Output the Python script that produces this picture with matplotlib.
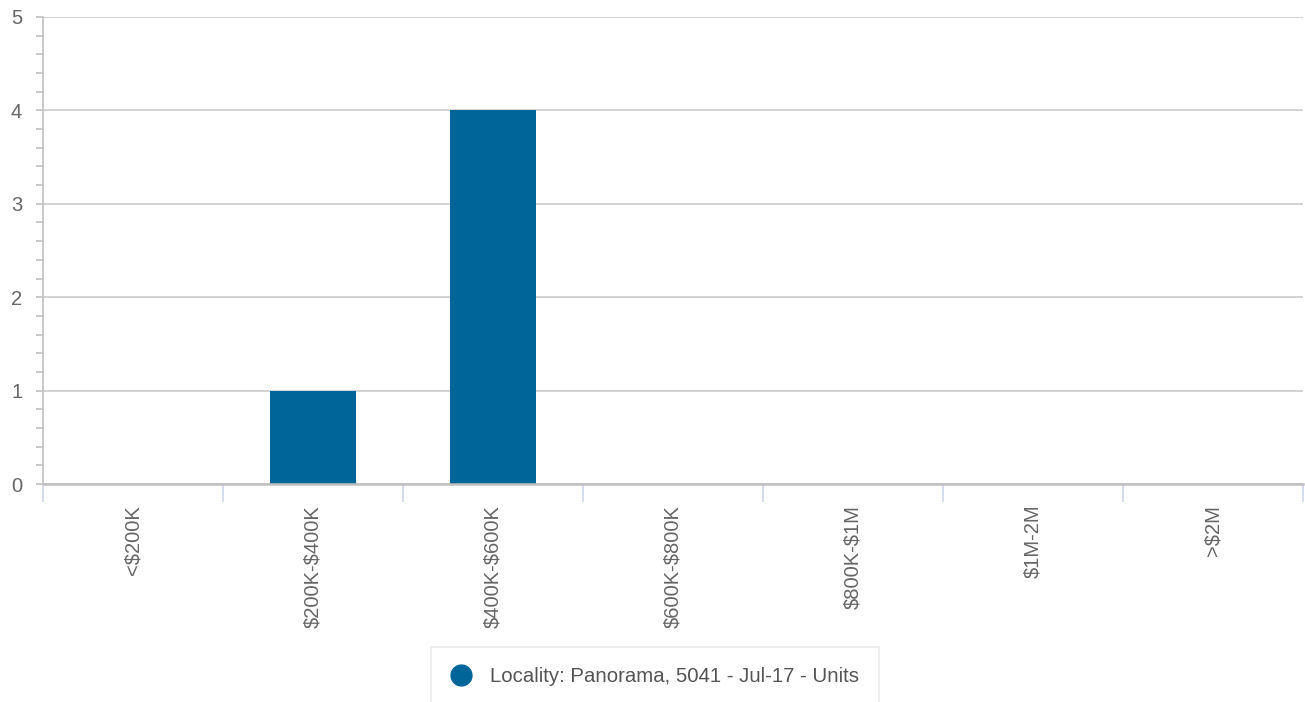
import matplotlib.pyplot as plt
from matplotlib.lines import Line2D
import numpy as np

plt.rcParams['font.family'] = ['Liberation Sans', 'DejaVu Sans']
plt.rcParams['text.parse_math'] = False

categories = ["<$200K", "$200K-$400K", "$400K-$600K", "$600K-$800K",
              "$800K-$1M", "$1M-2M", ">$2M"]
units = [0, 1, 4, 0, 0, 0, 0]
series_name = "Locality: Panorama, 5041 - Jul-17 - Units"
bar_color = "#006699"

W, H = 1305, 702
fig = plt.figure(figsize=(W / 100, H / 100), dpi=100)
ax = fig.add_axes([43 / W, 1 - 484 / H, 1260 / W, 467 / H])

x = np.arange(len(categories))
ax.bar(x, units, width=0.48, color=bar_color, zorder=3)

ax.set_xlim(-0.5, len(categories) - 0.5)
ax.set_ylim(0, 5)

# y axis
ax.set_yticks(range(0, 6))
ax.set_yticks(np.arange(0, 5.01, 0.2), minor=True)
ax.yaxis.grid(True, color="#cccccc", linewidth=1.2, zorder=0)
ax.tick_params(axis="y", which="both", length=5, width=1.2, color="#c0c0c0",
               labelsize=14.5, labelcolor="#666666", pad=10)

# x axis
ax.set_xticks(x)
ax.set_xticklabels(categories, rotation=90, va="top", ha="center")
ax.set_xticks(np.arange(-0.5, len(categories)), minor=True)
ax.tick_params(axis="x", which="major", length=0, labelsize=14.5,
               labelcolor="#666666", pad=15)
ax.tick_params(axis="x", which="minor", length=13, width=1.2, color="#ccd6eb")

for side in ["top", "right"]:
    ax.spines[side].set_visible(False)
ax.spines["left"].set_color("#c0c0c0")
ax.spines["left"].set_linewidth(1.2)
ax.spines["bottom"].set_color("#c0c0c0")
ax.spines["bottom"].set_linewidth(1.8)
ax.spines["bottom"].set_zorder(4)

handle = Line2D([], [], marker="o", linestyle="none", markersize=15,
                markerfacecolor=bar_color, markeredgecolor=bar_color)
leg = fig.legend([handle], [series_name], loc="upper center",
                 bbox_to_anchor=(655 / W, 1 - 647 / H), borderaxespad=0,
                 fontsize=14.7, frameon=True, fancybox=False, borderpad=1.0,
                 handletextpad=0.9, handlelength=1.0, labelcolor="#555555")
leg.get_frame().set_edgecolor("#e6e6e6")
leg.get_frame().set_linewidth(1.2)

fig.savefig("out.png", dpi=100)
